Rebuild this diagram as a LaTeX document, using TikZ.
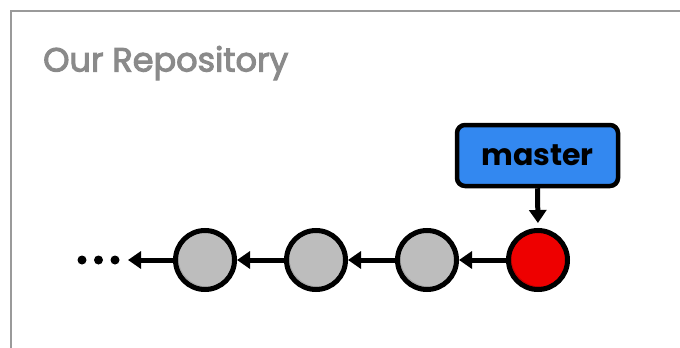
\documentclass[tikz,border=0pt]{standalone}
\usepackage{fontspec}
\setmainfont{Poppins}
\newfontfamily\titlefont[FakeBold=3]{Poppins}
\usetikzlibrary{arrows.meta}
\definecolor{framegray}{HTML}{9A9A9A}
\definecolor{titlegray}{HTML}{8A8A8A}
\definecolor{commitgray}{HTML}{BDBDBD}
\definecolor{commitshade}{HTML}{A8A8A8}
\definecolor{headred}{HTML}{EE0000}
\definecolor{headshade}{HTML}{C80000}
\definecolor{branchblue}{HTML}{3388F0}
\tikzset{
  commit/.style={circle,draw=black,line width=5pt,minimum size=59pt,inner sep=0pt},
  arr/.style={line width=5pt,-{Triangle[length=13pt,width=17pt]}},
  dotnode/.style={circle,fill=black,minimum size=9pt,inner sep=0pt},
  branch/.style={draw=black,line width=4.5pt,rounded corners=8pt,fill=branchblue,
    minimum width=161pt,minimum height=61pt,inner sep=0pt,font=\bfseries\fontsize{30}{32}\selectfont}
}
\begin{document}
\begin{tikzpicture}[x=1pt,y=-1pt]
\useasboundingbox (0,0) rectangle (680,348);
\fill[white] (0,0) rectangle (680,348);
\draw[framegray,line width=2.5pt] (11,349) -- (11,11) -- (681,11);
\node[anchor=base west,text=titlegray,inner sep=0pt,font=\titlefont\fontsize{33.5}{36}\selectfont] (title) at (43,71.5) {Our Repository};
% commits
\foreach \n/\x/\f/\s in {c1/205/commitgray/commitshade,c2/316/commitgray/commitshade,c3/427/commitgray/commitshade,c4/538/headred/headshade}{
  \fill[\s] (\x,260) circle (30pt);
  \begin{scope}
    \clip (\x,260) circle (30pt);
    \fill[\f] (\x+2.5,257.5) circle (29pt);
  \end{scope}
  \node[commit] (\n) at (\x,260) {};
}
\node[dotnode] (d1) at (82,260) {};
\node[dotnode] (d2) at (98.5,260) {};
\node[dotnode] (d3) at (115,260) {};
\draw[arr] (c1.west) -- ++(-45,0) coordinate (e0);
\draw[arr] (c2.west) -- (c1.east);
\draw[arr] (c3.west) -- (c2.east);
\draw[arr] (c4.west) -- (c3.east);
\node[branch] (master) at (537.5,155.5) {master};
\draw[arr,shorten >=5pt] (master.south) -- (c4.north);
\end{tikzpicture}
\end{document}
